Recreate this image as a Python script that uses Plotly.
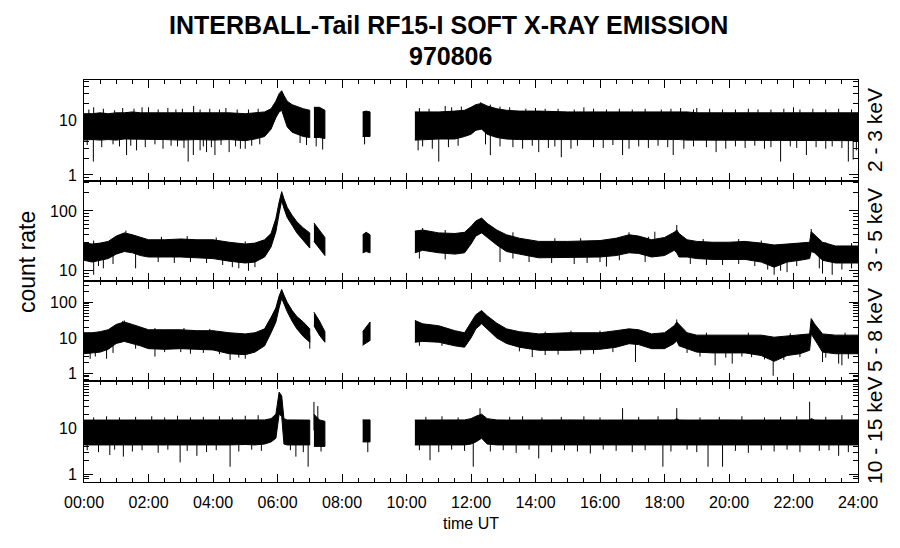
import numpy as np
import plotly.graph_objects as go

# ---------------- data ----------------
HOURS = [0, 0.25, 0.5, 0.75, 1.0, 1.25, 1.5, 1.75, 2.0, 2.5, 3.0, 3.5, 4.0, 4.5, 5.0, 5.3, 5.6, 5.8, 5.95,
         6.05, 6.13, 6.2, 6.3, 6.45, 6.6, 6.8, 7.0,
         7.13, 7.3, 7.47,
         8.64, 8.75, 8.87,
         10.26, 10.5, 11.0, 11.5, 11.8, 12.0, 12.15, 12.33, 12.5, 12.8, 13.1, 13.5, 14.1, 15.0, 16.0, 16.5,
         16.9, 17.2, 17.6, 18.0, 18.3, 18.38, 18.45, 18.7, 19.0, 19.5, 20.0, 20.5, 21.0, 21.4, 21.8, 22.2,
         22.5, 22.55, 22.65, 22.9, 23.3, 23.7, 24.0]
SEGMENT_STARTS = [7.13, 8.64, 10.26]   # data gaps before these times

# 2 - 3 keV band (upper / lower envelope of count rate)
P1_HI = [13, 13, 13.5, 13, 13.5, 13.5, 14, 13.5, 13.5, 13.5, 13.5, 13.5, 13.5, 13.5, 13, 13.5, 14, 16, 22,
         30, 34, 28, 22, 19, 17.5, 16, 15,
         17, 17, 15,
         14, 14.5, 14,
         14, 14, 14, 14.5, 15, 17, 19, 20, 18, 16, 15, 14.5, 14.5, 14, 14, 14,
         14, 14, 14, 14, 14, 14, 14, 14, 13.5, 13.5, 13.5, 13.5, 13.5, 13.5, 13.5, 13.5,
         13.5, 13.5, 13.5, 13.5, 13.5, 13.5, 13.5]
P1_LO = [4.3, 4.4, 4.3, 4.4, 4.3, 4.5, 4.4, 4.5, 4.4, 4.4, 4.3, 4.4, 4.3, 4.4, 4.2, 4.5, 5.0, 6.8, 11,
         14, 15, 11, 7.5, 6, 5.5, 5, 4.8,
         4.8, 4.8, 4.6,
         5, 5, 5,
         4.3, 4.3, 4.5, 4.5, 5.0, 5.5, 6.5, 6.8, 5.5, 4.8, 4.5, 4.4, 4.3, 4.3, 4.3, 4.3,
         4.3, 4.3, 4.3, 4.3, 4.4, 4.4, 4.4, 4.3, 4.2, 4.2, 4.2, 4.2, 4.2, 4.2, 4.2, 4.2,
         4.2, 4.2, 4.2, 4.2, 4.2, 4.2, 4.2]

# 3 - 5 keV band
P2_HI = [29, 28, 29, 31, 38, 43, 40, 36, 33, 33, 34, 33, 33, 30, 28, 29, 33, 42, 75,
         140, 210, 160, 115, 85, 66, 52, 43,
         63, 48, 36,
         40, 44, 40,
         46, 48, 43, 42, 44, 55, 68, 76, 62, 48, 40, 35, 31, 31, 32, 35,
         40, 38, 33, 36, 44, 48, 42, 33, 31, 30, 30, 31, 29, 27, 28, 29,
         30, 45, 40, 30, 26, 26, 26]
P2_LO = [15, 14, 15, 16, 19, 21, 20, 18, 17, 17, 17, 16.5, 16, 14.5, 13.5, 14, 17, 25, 45,
         90, 150, 110, 78, 58, 43, 32, 24,
         31, 24, 18,
         20, 21, 20,
         20, 22, 20, 19, 20, 28, 38, 43, 36, 27, 21, 19, 16.5, 16.5, 17, 18,
         20, 19.5, 17, 18, 22, 20, 17, 17, 16, 15.5, 15.5, 15.5, 14, 11.5, 14, 15,
         16, 21, 20, 15, 13.5, 13.5, 13.5]

# 5 - 8 keV band
P3_HI = [14, 14, 15, 17, 24, 28, 24, 20, 17, 17, 17, 16, 16, 14, 13, 14, 18, 38, 70,
         150, 230, 160, 100, 60, 40, 28, 18,
         53, 30, 15,
         15, 20, 28,
         31, 25, 22, 16, 14, 28, 45, 59, 42, 26, 18, 15, 13, 14, 14, 16,
         18, 17, 13, 14, 22, 28, 24, 14, 12, 12, 12, 12.5, 12, 10.5, 11.5, 12,
         13, 35, 25, 13, 12, 12, 12]
P3_LO = [3.6, 3.8, 4.0, 4.8, 7, 8, 7, 6, 5, 4.8, 5, 4.8, 4.6, 3.6, 3.4, 4.0, 6, 14, 28,
         70, 130, 90, 55, 30, 18, 11, 7.6,
         22, 12, 7.6,
         6.2, 7, 8.5,
         7.6, 8, 7.6, 6, 5.5, 10, 18, 25, 18, 10, 7, 5.5, 4.5, 4.5, 4.8, 5.5,
         6.9, 6.5, 5, 5, 7, 8.4, 6, 5, 4, 3.8, 3.8, 3.8, 3.2, 2.2, 3.2, 3.6,
         4.5, 13, 9, 4, 3.6, 3.6, 3.6]

# 10 - 15 keV band
P4_HI = [14.9, 14.9, 15, 14.9, 15, 14.9, 15, 14.9, 15, 14.9, 15, 14.9, 15, 14.9, 15, 15, 15, 16, 20,
         60, 50, 16, 15, 15, 14.9, 15, 14.9,
         20, 15, 14,
         15, 15, 15,
         14.9, 15, 14.9, 15, 15, 16, 18, 20, 16, 15, 14.9, 15, 14.9, 15, 14.9, 15,
         14.9, 15, 14.9, 15, 15, 16, 15, 14.9, 15, 14.9, 15, 14.9, 15, 14.9, 15, 14.9,
         15, 16, 15, 14.9, 15, 14.9, 15]
P4_LO = [4.3, 4.3, 4.4, 4.3, 4.3, 4.4, 4.3, 4.3, 4.4, 4.3, 4.3, 4.4, 4.3, 4.3, 4.4, 4.3, 4.5, 5, 6,
         20, 18, 4.5, 4.3, 4.3, 4.3, 4.3, 4.3,
         4, 4, 4,
         5, 5, 5,
         4.3, 4.3, 4.4, 4.3, 4.3, 4.5, 5, 6, 4.5, 4.3, 4.3, 4.4, 4.3, 4.3, 4.4, 4.3,
         4.3, 4.4, 4.3, 4.3, 4.4, 4.3, 4.3, 4.4, 4.3, 4.3, 4.4, 4.3, 4.3, 4.4, 4.3, 4.3,
         4.4, 4.3, 4.3, 4.4, 4.3, 4.3, 4.3]

# isolated spikes beyond the dense band: hour, count rate
P1_SPIKES_T = [0.29, 1.32, 1.63, 3.23, 3.39, 3.6, 3.8, 4.06, 4.5, 5.0, 10.36, 11.0, 12.6, 14.1, 14.8, 16.7,
               18.27, 19.6, 21.6, 22.4, 23.7, 23.85, 0.3, 2.0, 3.4, 11.2, 12.3, 15.5, 19.0, 22.0,
               0.1, 0.55, 0.9, 1.1, 1.45, 1.9, 2.2, 2.45, 2.7, 2.9, 3.1, 3.7, 3.95, 4.25, 4.7, 4.85, 5.2,
               5.45, 6.7, 6.9, 7.2, 7.4, 8.7, 10.5, 10.8, 11.3, 11.6, 12.45, 12.9, 13.3, 13.6, 13.9, 14.4,
               14.6, 15.1, 15.3, 15.8, 16.1, 16.4, 16.9, 17.2, 17.5, 17.8, 18.1, 18.6, 18.9, 19.3, 19.9,
               20.2, 20.5, 20.8, 21.1, 21.3, 21.9, 22.1, 22.7, 23.0, 23.2, 23.5, 23.95,
               0.15, 0.6, 0.95, 1.2, 1.55, 1.8, 2.3, 2.6, 2.85, 3.05, 3.6, 3.9, 4.2, 4.4, 4.75, 5.1, 5.4,
               10.4, 10.7, 11.4, 11.7, 12.6, 12.9, 13.2, 13.7, 14.0, 14.3, 14.7, 15.2, 15.8, 16.2, 16.6,
               17.0, 17.4, 17.9, 18.2, 18.5, 18.9, 19.4, 19.8, 20.2, 20.6, 20.9, 21.3, 21.7, 22.2, 22.6,
               23.0, 23.4, 23.8]
P1_SPIKES_V = [1.75, 2.3, 2.8, 1.75, 2.3, 2.8, 2.6, 2.3, 2.6, 3.0, 2.8, 1.75, 2.3, 2.6, 2.1, 2.3,
               2.3, 2.6, 1.75, 2.3, 1.75, 1.9, 17, 17, 18, 18, 21, 17, 16.5, 17,
               3.5, 3.2, 3.6, 3.3, 3.4, 3.2, 3.6, 3.0, 3.4, 3.3, 3.1, 3.3, 3.2, 3.5, 3.3, 3.0, 3.4,
               3.6, 3.8, 3.5, 3.3, 2.9, 3.6, 3.3, 3.0, 3.2, 3.4, 3.6, 3.3, 3.2, 3.0, 3.4, 3.1,
               3.3, 3.0, 3.4, 3.2, 3.1, 3.5, 3.0, 3.3, 3.1, 3.4, 3.2, 3.0, 3.3, 3.2, 3.0,
               3.3, 3.1, 3.4, 3.0, 3.2, 3.3, 3.1, 3.2, 3.0, 3.3, 3.1, 2.8,
               15.5, 16, 15, 16.5, 16, 17, 15.5, 16.5, 15.5, 16, 15.5, 16, 15.5, 16.5, 15.5, 15.5, 16,
               16.5, 16, 17, 17.5, 19, 17.5, 17, 16, 16.5, 16, 16, 15.5, 16, 15.5, 16,
               15.5, 16, 15.5, 16, 16.5, 15.5, 16, 15.5, 15.5, 16, 15.5, 15.5, 16, 15.5, 16,
               15.5, 16, 15.5]
P2_SPIKES_T = [0.3, 0.6, 1.6, 4.8, 5.1, 12.9, 16.2, 21.4, 21.8, 22.9, 23.2, 17.7, 18.38, 22.55,
               0.45, 0.9, 2.3, 2.8, 3.3, 3.8, 4.3, 4.6, 5.3, 10.4, 11.2, 13.3, 13.8, 14.5, 15.2, 15.6,
               16.0, 16.6, 17.4, 18.8, 19.3, 19.8, 20.3, 20.8, 21.2, 21.6, 22.1, 22.8, 23.5, 23.8,
               0.3, 1.3, 2.4, 3.2, 4.1, 5.0, 10.5, 11.2, 13.3, 14.6, 15.4, 16.9, 17.5, 19.2, 20.3, 21.0,
               23.0, 23.8]
P2_SPIKES_V = [8.6, 11, 11, 11, 10, 14, 11.8, 8.6, 9.5, 9, 8.6, 45, 58, 50,
               12, 13, 14, 13.5, 14, 13.5, 12.5, 11.5, 11.5, 16, 15.5, 16, 14, 13.5, 13, 13.5,
               14, 15, 14, 13, 12.5, 12.5, 13, 12, 10.5, 10, 12, 11, 10.5, 11,
               32, 47, 37, 38, 36, 31, 52, 48, 44, 35, 35, 44, 37, 34, 34, 32,
               30, 29]
P3_SPIKES_T = [0.19, 0.7, 2.2, 4.53, 5.0, 7.0, 13.9, 17.1, 19.57, 20.1, 21.37, 22.9, 23.4, 23.5, 1.25, 18.38,
               0.35, 0.9, 1.6, 2.5, 3.0, 3.3, 3.7, 4.2, 4.8, 10.4, 11.1, 13.5, 14.3, 14.7, 15.4, 15.8,
               16.4, 18.7, 19.1, 19.9, 20.4, 20.7, 21.1, 21.7, 22.2, 23.0, 23.7,
               1.2, 2.2, 3.1, 3.9, 14.3, 15.1, 16.0, 19.3, 20.6, 21.9, 23.6]
P3_SPIKES_V = [2.6, 2.6, 3.0, 2.4, 2.6, 5.0, 2.9, 2.1, 1.7, 1.9, 0.87, 2.1, 1.9, 1.7, 31, 33,
               3.0, 3.8, 5.0, 4.0, 4.0, 3.6, 3.8, 3.5, 2.8, 6.0, 6.0, 4.2, 3.3, 3.4, 3.5, 3.6,
               4.0, 3.8, 3.0, 2.8, 3.0, 2.9, 2.5, 2.4, 2.9, 2.8, 2.6,
               30, 19, 19, 18, 15, 16, 16, 14, 14, 13.5, 14]
P4_SPIKES_T = [1.22, 2.98, 4.53, 6.57, 6.95, 10.73, 12.07, 14.1, 17.95, 19.35, 19.8, 23.4, 0.8, 3.5, 8.8,
               12.28, 16.7, 18.38, 22.5, 7.13, 7.25,
               0.1, 0.45, 0.95, 1.5, 1.8, 2.3, 2.6, 3.2, 3.8, 4.1, 4.8, 5.2, 5.5, 6.4, 6.8, 7.35, 10.4,
               11.0, 11.4, 11.8, 12.6, 13.0, 13.4, 13.8, 14.5, 14.9, 15.3, 15.7, 16.1, 16.5, 17.0, 17.4,
               18.2, 18.7, 19.0, 20.2, 20.6, 21.0, 21.4, 21.8, 22.2, 22.8, 23.1, 23.7,
               0.3, 0.7, 1.1, 1.6, 2.1, 2.5, 2.9, 3.3, 3.7, 4.2, 4.6, 5.0, 5.4, 10.6, 11.1, 11.6, 13.2,
               13.6, 14.2, 14.8, 15.5, 16.0, 17.2, 17.8, 19.1, 19.7, 20.4, 21.1, 21.6, 22.1, 23.0, 23.5]
P4_SPIKES_V = [2.4, 1.8, 1.45, 2.4, 1.45, 2.0, 1.45, 2.2, 1.45, 1.45, 1.45, 2.5, 2.6, 2.5, 3.0,
               27, 27, 27, 37, 37, 30,
               3.3, 3.0, 3.4, 3.1, 3.3, 2.9, 3.4, 3.2, 3.0, 3.3, 3.1, 3.4, 3.2, 3.3, 3.0, 3.1, 3.3,
               3.0, 3.4, 3.2, 3.1, 3.3, 2.9, 3.4, 3.0, 3.3, 3.1, 2.8, 3.4, 3.2, 3.0, 3.3,
               3.1, 3.4, 3.0, 3.2, 2.9, 3.3, 3.1, 3.4, 3.0, 3.2, 3.3, 3.0,
               17, 18, 17, 17.5, 18, 17, 18.5, 17, 17.5, 18, 17, 18.5, 19, 17.5, 18, 17, 17.5,
               18, 17, 17.5, 18, 17, 17.5, 18, 17, 17.5, 18, 17, 17.5, 18, 17.5, 19]

CHANNEL_LABELS = ["2 - 3 keV", "3 - 5 keV", "5 - 8 keV", "10 - 15 keV"]
X_TICK_VALUES = list(range(0, 25, 2))
X_TICK_LABELS = ["%02d:00" % h for h in X_TICK_VALUES]

# ---------------- figure ----------------
PANELS = [
    (P1_HI, P1_LO, P1_SPIKES_T, P1_SPIKES_V, [-0.11, 1.727], [1, 10]),
    (P2_HI, P2_LO, P2_SPIKES_T, P2_SPIKES_V, [0.83, 2.5], [10, 100]),
    (P3_HI, P3_LO, P3_SPIKES_T, P3_SPIKES_V, [-0.21, 2.6], [1, 10, 100]),
    (P4_HI, P4_LO, P4_SPIKES_T, P4_SPIKES_V, [-0.17, 2.02], [1, 10]),
]
DOMAINS = [[0.7488, 1.0], [0.5, 0.7488], [0.2512, 0.5], [0.0, 0.2512]]
FONT = "Liberation Sans, Arial, sans-serif"

t = np.array(HOURS)
seg_bounds = [0] + [int(np.where(t == s)[0][0]) for s in SEGMENT_STARTS] + [len(t)]

fig = go.Figure()
layout = {}
for i, (hi, lo, st, sv, yr, ytv) in enumerate(PANELS):
    n = i + 1
    xa, ya = ("x" if n == 1 else "x%d" % n), ("y" if n == 1 else "y%d" % n)
    hi = np.array(hi, float)
    lo = np.array(lo, float)
    for a, b in zip(seg_bounds[:-1], seg_bounds[1:]):
        xs = list(t[a:b]) + list(t[a:b][::-1])
        ys = list(hi[a:b]) + list(lo[a:b][::-1])
        fig.add_trace(go.Scatter(x=xs, y=ys, mode="lines", fill="toself", fillcolor="black",
                                 line=dict(color="black", width=1), xaxis=xa, yaxis=ya,
                                 hoverinfo="skip", showlegend=False))
    # spikes drawn from inside the band out to their value
    sx, sy = [], []
    for ts, vs in zip(st, sv):
        base = np.sqrt(np.interp(ts, t, hi) * np.interp(ts, t, lo))
        sx += [ts, ts, None]
        sy += [base, vs, None]
    fig.add_trace(go.Scatter(x=sx, y=sy, mode="lines", line=dict(color="black", width=1),
                             xaxis=xa, yaxis=ya, hoverinfo="skip", showlegend=False))

    minor_vals = [m * 10 ** d for d in range(-1, 3) for m in range(2, 10)]
    minor_vals = [v for v in minor_vals if yr[0] < np.log10(v) < yr[1]]
    key_x = "xaxis" if n == 1 else "xaxis%d" % n
    key_y = "yaxis" if n == 1 else "yaxis%d" % n
    layout[key_x] = dict(
        domain=[0, 1], anchor=ya, range=[0, 24], showline=True, linecolor="black", linewidth=1,
        mirror="ticks", ticks="inside", ticklen=8, tickcolor="black", tickwidth=1,
        tickvals=X_TICK_VALUES, ticktext=X_TICK_LABELS, showticklabels=(n == 4),
        showgrid=False, zeroline=False, ticklabelstandoff=6,
        tickfont=dict(family=FONT, size=16, color="black"),
        minor=dict(dtick=0.5, tick0=0, ticks="inside", ticklen=4, tickcolor="black", showgrid=False),
    )
    if n != 4:
        layout[key_x]["matches"] = "x4"
    layout[key_y] = dict(
        domain=DOMAINS[i], anchor=xa, type="log", range=yr, showline=True, linecolor="black",
        linewidth=1, mirror="ticks", ticks="inside", ticklen=9, tickcolor="black", tickwidth=1,
        tickvals=ytv, ticktext=[str(v) for v in ytv], showgrid=False, zeroline=False,
        ticklabelstandoff=3, tickfont=dict(family=FONT, size=16, color="black"),
        minor=dict(tickvals=minor_vals, ticks="inside", ticklen=5, tickcolor="black", showgrid=False),
    )


def ann(text, xpx, ypx, size, angle=0):
    return dict(text=text, x=(xpx - 84) / 774, y=(482 - ypx) / 402, xref="paper", yref="paper",
                xanchor="center", yanchor="middle", textangle=angle, showarrow=False,
                font=dict(family=FONT, size=size, color="black"))


annotations = [
    ann("<b>INTERBALL-Tail RF15-I SOFT X-RAY EMISSION</b>", 448, 25, 25),
    ann("<b>970806</b>", 450, 56, 25),
    ann("count rate", 27, 262, 23, -90),
    ann("time UT", 471, 523, 16),
]
for i, lab in enumerate(CHANNEL_LABELS):
    ann_y = [130, 230, 330, 431][i]
    annotations.append(ann(lab, 874, ann_y, 21, -90))

fig.update_layout(
    width=900, height=548, margin=dict(l=84, r=42, t=80, b=66),
    paper_bgcolor="white", plot_bgcolor="white", showlegend=False,
    annotations=annotations, **layout,
)
fig.write_html("out.html", config={"displayModeBar": False},
               post_script="document.body.style.margin='0px';")
